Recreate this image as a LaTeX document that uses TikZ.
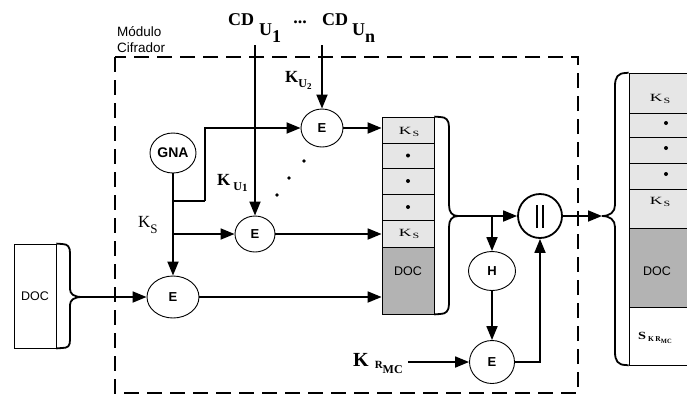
\documentclass[tikz,border=0pt]{standalone}
\usepackage{fontspec}
\usepackage{graphicx}
\setmainfont{Liberation Serif}
\setsansfont{Liberation Sans}
\usetikzlibrary{arrows.meta,shapes.geometric}
\definecolor{cellgray}{HTML}{E6E6E6}
\definecolor{docgray}{HTML}{B3B3B3}
\newcommand{\myks}{{\fontsize{11}{11}\selectfont\scalebox{1.6}[1]{K}\kern1pt\raisebox{-2.5pt}{\scalebox{1.5}[1]{\fontsize{8}{8}\selectfont S}}}}
\begin{document}
\begin{tikzpicture}[x=1pt,y=-1pt,
  conn/.style={line width=1.8pt},
  arr/.style={conn,-{Triangle[length=14pt,width=11pt]}},
  op/.style={ellipse,draw,line width=0.9pt,inner sep=0pt,font=\sffamily\bfseries\fontsize{13}{13}\selectfont},
  cell/.style={draw,line width=0.8pt,fill=cellgray,inner sep=0pt,minimum width=52pt},
  rcell/.style={draw,line width=0.8pt,fill=cellgray,inner sep=0pt,minimum width=66pt},
  doctxt/.style={font=\sffamily\fontsize{12.5}{12.5}\selectfont,inner sep=0pt},
  lbl/.style={inner sep=0pt,anchor=base west},
  dotm/.style={circle,fill=black,inner sep=0pt,minimum size=4pt},
  braceline/.style={line width=1.8pt}
]
\useasboundingbox (0,0) rectangle (687,397);

% Module frame
\draw[line width=2.2pt,dash pattern=on 15pt off 8pt] (115,57) rectangle (578,393);
\node[lbl,font=\sffamily\fontsize{13.5}{13.5}\selectfont] (mod1) at (117,36) {Módulo};
\node[lbl,font=\sffamily\fontsize{13.5}{13.5}\selectfont] (mod2) at (117,52) {Cifrador};

% Top labels
\node[lbl,font=\bfseries\fontsize{18}{18}\selectfont] (cdu1) at (228,25) {CD\kern5pt\raisebox{-10pt}{U}\raisebox{-17pt}{1}};
\node[inner sep=0pt,anchor=base,font=\bfseries\fontsize{18}{18}\selectfont] (ell) at (300,23) {...};
\node[lbl,font=\bfseries\fontsize{18}{18}\selectfont] (cdun) at (322,25) {CD\kern4pt\raisebox{-10pt}{U}\raisebox{-17pt}{n}};
\coordinate (cd1top) at (255,45);
\coordinate (cdntop) at (322,45);

\node[lbl,font=\bfseries\fontsize{17}{17}\selectfont] (ku2) at (285,82) {K\raisebox{-5pt}{\fontsize{12}{12}\selectfont U}\raisebox{-7pt}{\fontsize{9}{9}\selectfont 2}};
\node[lbl,font=\bfseries\fontsize{17}{17}\selectfont] (ku1) at (217,185) {K\kern3pt\raisebox{-5pt}{\fontsize{12}{12}\selectfont U}\raisebox{-6pt}{\fontsize{11}{11}\selectfont 1}};
\node[lbl,font=\fontsize{17}{17}\selectfont] (ks) at (138,227) {K\raisebox{-6pt}{\fontsize{13}{13}\selectfont S}};

% Operators
\node[op,minimum width=46pt,minimum height=40pt,font=\sffamily\bfseries\fontsize{14}{14}\selectfont] (gna) at (173,153) {GNA};
\node[op,minimum width=42pt,minimum height=38pt] (e2) at (322,128) {E};
\node[op,minimum width=40pt,minimum height=36pt] (e1) at (255,234) {E};
\node[op,minimum width=52pt,minimum height=42pt] (e0) at (173,297) {E};
\node[op,minimum width=47pt,minimum height=39pt] (h) at (492,271) {H};
\node[op,minimum width=45pt,minimum height=43pt] (e3) at (492,362) {E};
\node[circle,draw,line width=1.8pt,minimum size=44pt,inner sep=0pt] (conc) at (540,216) {};
\draw[line width=1.3pt] ([shift={(-3,-11)}]conc.center) -- ([shift={(-3,12)}]conc.center);
\draw[line width=1.3pt] ([shift={(3,-11)}]conc.center) -- ([shift={(3,12)}]conc.center);

% Left stack
\node[cell,minimum height=26pt] (s1) at (408,130) {};
\node[cell,minimum height=25pt] (s2) at (408,155.5) {};
\node[cell,minimum height=26pt] (s3) at (408,181) {};
\node[cell,minimum height=26pt] (s4) at (408,207) {};
\node[cell,minimum height=27pt] (s5) at (408,233.5) {};
\node[cell,minimum height=67pt,fill=docgray] (s6) at (408,280.5) {};
\node[inner sep=0pt,anchor=base] (s1t) at (409,134) {\myks};
\node[inner sep=0pt,anchor=base] (s5t) at (409,236) {\myks};
\node[doctxt] (s6t) at (408,271.5) {DOC};
\node[dotm] (d1) at (s2) {};
\node[dotm] (d2) at (s3) {};
\node[dotm] (d3) at (s4) {};

% Right column
\node[rcell,minimum height=40pt] (r1) at (662,93) {};
\node[rcell,minimum height=24pt] (r2) at (662,125) {};
\node[rcell,minimum height=26pt] (r3) at (662,150) {};
\node[rcell,minimum height=26pt] (r4) at (662,176) {};
\node[rcell,minimum height=39pt] (r5) at (662,208.5) {};
\node[rcell,minimum height=79pt,fill=docgray] (r6) at (662,267.5) {};
\node[rcell,minimum height=58pt,fill=white] (r7) at (662,336) {};
\node[inner sep=0pt,anchor=base] (r1t) at (660,101) {\myks};
\node[inner sep=0pt,anchor=base] (r5t) at (660,204) {\myks};
\node[doctxt] (r6t) at (657,271.5) {DOC};
\node[dotm] (rd1) at (666,123) {};
\node[dotm] (rd2) at (666,148) {};
\node[dotm] (rd3) at (666,174) {};
\node[lbl,font=\bfseries\fontsize{11}{11}\selectfont] (skr) at (638,339) {\scalebox{1.3}[1]{S}\kern2pt\raisebox{-2pt}{\fontsize{7.5}{7.5}\selectfont K\kern1.5pt R}\raisebox{-4.5pt}{\fontsize{6.5}{6.5}\selectfont MC}};

% Dots between E's
\node[dotm,minimum size=3.6pt] (p1) at (304,161) {};
\node[dotm,minimum size=3.6pt] (p2) at (289,178) {};
\node[dotm,minimum size=3.6pt] (p3) at (277,195) {};

% Input DOC
\node[draw,line width=0.8pt,minimum width=42pt,minimum height=104pt,inner sep=0pt,font=\sffamily\fontsize{12.5}{12.5}\selectfont] (docin) at (35,296) {DOC};
\coordinate (dtip) at (82,297);
\draw[braceline] (docin.north east) -- (62,244) .. controls (68,244) and (70,247) .. (70,253) -- (70,289) .. controls (70,294) and (74,297) .. (dtip) .. controls (74,297) and (70,300) .. (70,305) -- (70,340) .. controls (70,346) and (68,348) .. (62,348) -- (docin.south east);

% Left stack brace
\coordinate (btip) at (458,216);
\draw[braceline] (s1.north east) -- (440,117) .. controls (446,117) and (449,120) .. (449,127) -- (449,205) .. controls (449,212) and (452,216) .. (btip) .. controls (452,216) and (449,220) .. (449,227) -- (449,304) .. controls (449,311) and (446,314) .. (440,314) -- (s6.south east);

% Right brace
\coordinate (rtip) at (602,216);
\draw[braceline] (r1.north west) -- (626,73) .. controls (618,73) and (615,77) .. (615,86) -- (615,205) .. controls (615,212) and (610,216) .. (rtip) .. controls (610,216) and (615,220) .. (615,227) -- (615,352) .. controls (615,361) and (618,365) .. (626,365) -- (r7.south west);

% K_RMC
\node[lbl,font=\bfseries\fontsize{20}{20}\selectfont] (krmc) at (353,366) {K\kern6pt\raisebox{-2pt}{\fontsize{11}{11}\selectfont R}\raisebox{-7pt}{\fontsize{12}{12}\selectfont MC}};
\coordinate (kst) at (408,362);

% Connectors
\coordinate (j1) at (173,201);
\coordinate (bend1) at (205,201);
\coordinate (j2) at (173,234);
\coordinate (hj) at (492,216);
\draw[arr] (cd1top) -- (e1.north);
\draw[arr] (cdntop) -- (e2.north);
\draw[arr] (gna.south) -- (e0.north);
\draw[conn] (j1) -- (bend1);
\draw[arr] (bend1) |- (e2.west);
\draw[arr] (j2) -- (e1.west);
\draw[arr] (e2.east) -- (e2.east -| s1.west);
\draw[arr] (e1.east) -- (e1.east -| s5.west);
\draw[arr] (e0.east) -- (e0.east -| s6.west);
\draw[arr] (dtip) -- (e0.west);
\draw[arr] (btip) -- (conc.west);
\draw[arr] (hj) -- (h.north);
\draw[arr] (h.south) -- (e3.north);
\draw[arr] (e3.east) -| (conc.south);
\draw[arr] (kst) -- (e3.west);
\draw[arr] (conc.east) -- (rtip);
\end{tikzpicture}
\end{document}
